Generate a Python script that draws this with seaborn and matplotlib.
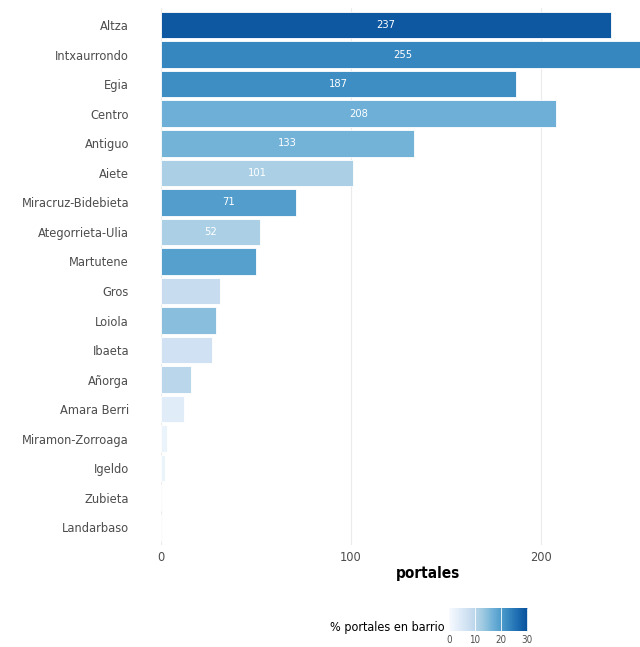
import numpy as np
import pandas as pd
import matplotlib
matplotlib.use('Agg')
import matplotlib.pyplot as plt
import matplotlib.colors as mcolors
import seaborn as sns

# datos por barrio
barrios = ['Altza', 'Intxaurrondo', 'Egia', 'Centro', 'Antiguo', 'Aiete',
           'Miracruz-Bidebieta', 'Ategorrieta-Ulia', 'Martutene', 'Gros',
           'Loiola', 'Ibaeta', 'Añorga', 'Amara Berri', 'Miramon-Zorroaga',
           'Igeldo', 'Zubieta', 'Landarbaso']
portales = [237, 255, 187, 208, 133, 101, 71, 52, 50, 31, 29, 27, 16, 12, 3, 2, 0, 0]
pct_barrio = [29, 23, 22, 17, 16.5, 11.5, 19.8, 11.5, 19.5, 8.5, 14.7, 7, 10, 4, 2, 2, 0, 0]
etiquetas = ['237', '255', '187', '208', '133', '101', '71', '52',
             '', '', '', '', '', '', '', '', '', '']

df = pd.DataFrame({'barrio': barrios, 'portales': portales, 'pct': pct_barrio})

sns.set_theme(style='white')
plt.rcParams['font.family'] = ['DejaVu Sans']
plt.rcParams['font.stretch'] = 'condensed'

base = plt.get_cmap('Blues')
cmap = mcolors.LinearSegmentedColormap.from_list('blues_t', base(np.linspace(0.0, 0.88, 256)))
norm = mcolors.Normalize(vmin=0, vmax=30.3)
colores = {b: cmap(norm(p)) for b, p in zip(barrios, pct_barrio)}

fig = plt.figure(figsize=(6.4, 6.47), dpi=100)
ax = fig.add_axes([161 / 640, 1 - 545 / 647, 534 / 640, 537 / 647])

sns.barplot(data=df, x='portales', y='barrio', hue='barrio', palette=colores,
            order=barrios, legend=False, width=0.9, edgecolor='white',
            linewidth=0.6, saturation=1, ax=ax)

for i, (v, t) in enumerate(zip(portales, etiquetas)):
    if t:
        ax.text(v / 2, i, t, color='white', ha='center', va='center', fontsize=8)

ax.set_xlim(0, 281)
ax.set_ylim(len(barrios) - 0.4, -0.58)
ax.set_xticks([0, 100, 200])
ax.xaxis.grid(True, color='#ebebeb', linewidth=0.8)
ax.set_axisbelow(True)
for s in ax.spines.values():
    s.set_visible(False)
ax.tick_params(axis='both', length=0, labelsize=9.2, labelcolor='#4d4d4d', pad=4)
ax.tick_params(axis='y', pad=23)
ax.set_ylabel('')
ax.set_xlabel('portales', fontsize=11, fontweight='bold', color='black', labelpad=2)

# barra de color
cax = fig.add_axes([449 / 640, 1 - 631 / 647, 79 / 640, 23 / 647])
cb = matplotlib.colorbar.ColorbarBase(cax, cmap=cmap, norm=norm, orientation='horizontal')
cb.set_ticks([0, 10, 20, 30])
cb.outline.set_visible(False)
for t in [10, 20, 30]:
    cax.axvline(t, color='white', linewidth=0.6)
cax.tick_params(length=0, labelsize=7, labelcolor='#4d4d4d', pad=3)
fig.text(445 / 640, 1 - 628 / 647, '% portales en barrio', ha='right', va='center',
         fontsize=9, color='black')

fig.savefig('out.png', dpi=100)
